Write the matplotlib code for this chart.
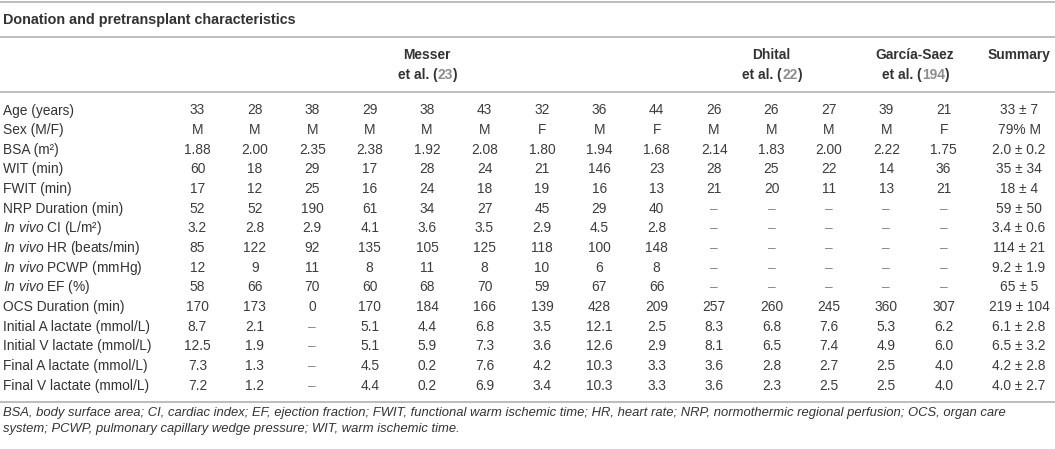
import matplotlib
matplotlib.use("Agg")
import matplotlib.pyplot as plt

W, H = 1055, 449
FONT = "Liberation Sans"
TEXT = "#333333"
NUM = "#3c3c3c"
DASH = "#8a8a8a"
REF = "#8c8c8c"
LINE = "#bdbdbd"
FS = 9.9

plt.rcParams["font.family"] = [FONT, "DejaVu Sans"]
plt.rcParams["mathtext.fontset"] = "custom"
plt.rcParams["mathtext.it"] = FONT + ":italic"
plt.rcParams["mathtext.rm"] = FONT

title = "Donation and pretransplant characteristics"
groups = [("Messer", "23"), ("Dhital", "22"), ("García-Saez", "194")]
group_sizes = [9, 3, 2]
summary_head = "Summary"

row_labels = [
    "Age (years)", "Sex (M/F)", "BSA (m²)", "WIT (min)", "FWIT (min)",
    "NRP Duration (min)", r"$\it{In\ vivo}$ CI (L/m²)",
    r"$\it{In\ vivo}$ HR (beats/min)", r"$\it{In\ vivo}$ PCWP (mmHg)",
    r"$\it{In\ vivo}$ EF (%)", "OCS Duration (min)",
    "Initial A lactate (mmol/L)", "Initial V lactate (mmol/L)",
    "Final A lactate (mmol/L)", "Final V lactate (mmol/L)",
]

age = ["33", "28", "38", "29", "38", "43", "32", "36", "44", "26", "26", "27", "39", "21"]
sex = ["M", "M", "M", "M", "M", "M", "F", "M", "F", "M", "M", "M", "M", "F"]
bsa = ["1.88", "2.00", "2.35", "2.38", "1.92", "2.08", "1.80", "1.94", "1.68", "2.14", "1.83", "2.00", "2.22", "1.75"]
wit = ["60", "18", "29", "17", "28", "24", "21", "146", "23", "28", "25", "22", "14", "36"]
fwit = ["17", "12", "25", "16", "24", "18", "19", "16", "13", "21", "20", "11", "13", "21"]
nrp = ["52", "52", "190", "61", "34", "27", "45", "29", "40", "–", "–", "–", "–", "–"]
ci = ["3.2", "2.8", "2.9", "4.1", "3.6", "3.5", "2.9", "4.5", "2.8", "–", "–", "–", "–", "–"]
hr = ["85", "122", "92", "135", "105", "125", "118", "100", "148", "–", "–", "–", "–", "–"]
pcwp = ["12", "9", "11", "8", "11", "8", "10", "6", "8", "–", "–", "–", "–", "–"]
ef = ["58", "66", "70", "60", "68", "70", "59", "67", "66", "–", "–", "–", "–", "–"]
ocs = ["170", "173", "0", "170", "184", "166", "139", "428", "209", "257", "260", "245", "360", "307"]
init_a = ["8.7", "2.1", "–", "5.1", "4.4", "6.8", "3.5", "12.1", "2.5", "8.3", "6.8", "7.6", "5.3", "6.2"]
init_v = ["12.5", "1.9", "–", "5.1", "5.9", "7.3", "3.6", "12.6", "2.9", "8.1", "6.5", "7.4", "4.9", "6.0"]
final_a = ["7.3", "1.3", "–", "4.5", "0.2", "7.6", "4.2", "10.3", "3.3", "3.6", "2.8", "2.7", "2.5", "4.0"]
final_v = ["7.2", "1.2", "–", "4.4", "0.2", "6.9", "3.4", "10.3", "3.3", "3.6", "2.3", "2.5", "2.5", "4.0"]

summary = ["33 ± 7", "79% M", "2.0 ± 0.2", "35 ± 34", "18 ± 4", "59 ± 50", "3.4 ± 0.6",
           "114 ± 21", "9.2 ± 1.9", "65 ± 5", "219 ± 104", "6.1 ± 2.8", "6.5 ± 3.2",
           "4.2 ± 2.8", "4.0 ± 2.7"]

rows = [age, sex, bsa, wit, fwit, nrp, ci, hr, pcwp, ef, ocs, init_a, init_v, final_a, final_v]

footnote = [
    "BSA, body surface area; CI, cardiac index; EF, ejection fraction; FWIT, functional warm ischemic time; "
    "HR, heart rate; NRP, normothermic regional perfusion; OCS, organ care",
    "system; PCWP, pulmonary capillary wedge pressure; WIT, warm ischemic time.",
]

# layout (pixels)
COL0, COL_STEP = 197.5, 57.4
SUM_X = 1019
ROW0, ROW_STEP = 110.5, 19.65

fig = plt.figure(figsize=(W / 100, H / 100), dpi=100)
fig.patch.set_facecolor("white")
ax = fig.add_axes([0, 0, 1, 1])
ax.set_xlim(0, W)
ax.set_ylim(H, 0)
ax.axis("off")
renderer = fig.canvas.get_renderer()


def hline(y):
    ax.plot([0, W], [y, y], color=LINE, lw=1.4, solid_capstyle="butt")


def text_width(s, **kw):
    t = ax.text(0, 0, s, fontsize=FS, **kw)
    w = t.get_window_extent(renderer).width
    t.remove()
    return w


def cited(x, y, before, ref, after, **kw):
    # "et al. (23)" with the reference number in grey, centred on x
    wb, wr, wa = text_width(before, **kw), text_width(ref, **kw), text_width(after, **kw)
    x0 = x - (wb + wr + wa - 1.0) / 2
    ax.text(x0, y, before, fontsize=FS, color=TEXT, ha="left", va="center", **kw)
    ax.text(x0 + wb + 0.5, y, ref, fontsize=FS, color=REF, ha="left", va="center", **kw)
    ax.text(x0 + wb + wr - 0.5, y, after, fontsize=FS, color=TEXT, ha="left", va="center", **kw)


hline(2)
ax.text(3, 20, title, fontsize=10.4, fontweight="bold", color=TEXT, ha="left", va="center")
hline(37)

# header
start = 0
for (name, ref), n in zip(groups, group_sizes):
    cx = COL0 + (start + (n - 1) / 2) * COL_STEP
    ax.text(cx, 55, name, fontsize=FS, fontweight="bold", color=TEXT, ha="center", va="center")
    cited(cx, 75, "et al. (", ref, ")", fontweight="bold")
    start += n
ax.text(SUM_X, 55, summary_head, fontsize=FS, fontweight="bold", color=TEXT, ha="center", va="center")
hline(92)

# body
for r, (label, vals, summ) in enumerate(zip(row_labels, rows, summary)):
    y = ROW0 + r * ROW_STEP
    ax.text(3, y, label, fontsize=FS, color=TEXT, ha="left", va="center")
    for i, v in enumerate(vals):
        ax.text(COL0 + i * COL_STEP, y, v, fontsize=FS,
                color=DASH if v == "–" else NUM, ha="center", va="center")
    ax.text(SUM_X, y, summ, fontsize=FS, color=NUM, ha="center", va="center")

hline(402)
for k, line in enumerate(footnote):
    ax.text(3, 413 + k * 16, line, fontsize=9.4, style="italic", color=TEXT,
            ha="left", va="center")

fig.savefig("out.png", dpi=100, facecolor="white")
